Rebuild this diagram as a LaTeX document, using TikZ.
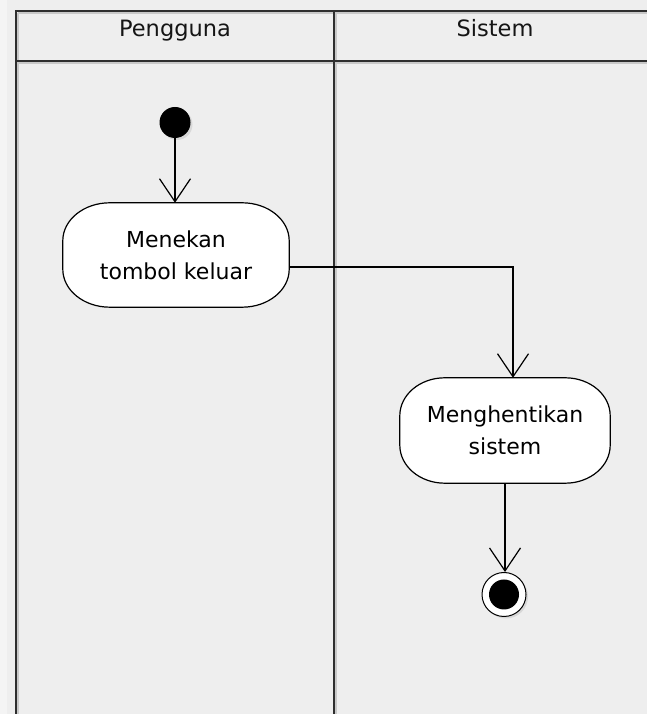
\documentclass[tikz,border=0pt]{standalone}
\usepackage{fontspec}
\setmainfont{DejaVu Sans}
\usetikzlibrary{arrows.meta,calc,shadows}
\definecolor{bg}{HTML}{EEEEEE}
\definecolor{edgestrip}{HTML}{F4F4F4}
\definecolor{laneink}{HTML}{2E2E2E}
\definecolor{laneshade}{HTML}{C8C8C8}
\definecolor{inkgray}{HTML}{151515}
\pgfdeclarelayer{canvas}
\pgfdeclarelayer{background}
\pgfsetlayers{canvas,background,main}

% Outline with elliptical corners drawn behind an action node
\newcommand\actionoutline[3]{%
  \begin{pgfonlayer}{background}
    \foreach \dx/\dy/\style in {3/-3/boxshadow, 0/0/boxline} {
      \path[\style, shift={(\dx,\dy)}]
        ($(#1.north west)+(#2,0)$) -- ($(#1.north east)+(-#2,0)$)
        arc[start angle=90, end angle=0, x radius=#2pt, y radius=#3pt]
        -- ($(#1.south east)+(0,#3)$)
        arc[start angle=0, end angle=-90, x radius=#2pt, y radius=#3pt]
        -- ($(#1.south west)+(#2,0)$)
        arc[start angle=270, end angle=180, x radius=#2pt, y radius=#3pt]
        -- ($(#1.north west)+(0,-#3)$)
        arc[start angle=180, end angle=90, x radius=#2pt, y radius=#3pt]
        -- cycle;
    }
  \end{pgfonlayer}}

\begin{document}
\begin{tikzpicture}[x=1pt,y=1pt,
  laneline/.style={draw=laneink, line width=2pt},
  laneshadowline/.style={draw=laneshade, line width=2pt},
  boxline/.style={fill=white, draw=black, line width=1.2pt},
  boxshadow/.style={fill=black, opacity=0.12},
  flow/.style={draw=black, line width=1.2pt,
    -{Straight Barb[length=23pt, width=31pt, line width=1.2pt]}},
  lanetitle/.style={font=\fontsize{22.5}{26}\selectfont, text=inkgray, anchor=base},
  actiontext/.style={font=\fontsize{22}{32}\selectfont, text=black, align=center,
    inner sep=0pt},
  pseudo/.style={circle, inner sep=0pt,
    drop shadow={shadow xshift=2pt, shadow yshift=-2pt, opacity=0.2}},
]
% canvas
\useasboundingbox (0,0) rectangle (647,714);
\begin{pgfonlayer}{canvas}
  \fill[bg] (0,0) rectangle (647,714);
  \fill[edgestrip] (0,0) rectangle (7,714);
\end{pgfonlayer}

% swimlane frame: shadows first, then the lines
\draw[laneshadowline] (17.5,701) -- (647,701);
\draw[laneshadowline] (17.5,651) -- (647,651);
\draw[laneshadowline] (17.5,0) -- (17.5,701);
\draw[laneshadowline] (336,0) -- (336,701);
\draw[laneline] (15.5,703) -- (647,703);
\draw[laneline] (15.5,653) -- (647,653);
\draw[laneline] (15.5,0) -- (15.5,704);
\draw[laneline] (334,0) -- (334,704);

% lane titles
\node[lanetitle] (user) at (175,677) {Pengguna};
\node[lanetitle] (sys) at (495,677) {Sistem};

% initial node
\node[pseudo, fill=black, minimum size=31pt] (start) at (175,591.5) {};

% actions
\node[actiontext, minimum width=226pt, minimum height=104pt] (a1) at (176,459)
  {Menekan\\tombol keluar};
\actionoutline{a1}{47}{38}
\node[actiontext, minimum width=210pt, minimum height=105pt] (a2) at (505,283.5)
  {Menghentikan\\sistem};
\actionoutline{a2}{45}{38}

% final node
\node[pseudo, fill=white, draw=black, line width=1pt, minimum size=44pt] (stop) at (504,119.5) {};
\node[circle, inner sep=0pt, fill=black, minimum size=30pt] (stopcore) at (stop) {};

% control flow
\draw[flow] (start.south) -- (start.south |- a1.north);
\draw[flow] ([yshift=-12pt]a1.east) -| ([xshift=8pt]a2.north);
\draw[flow] (a2.south) -- (a2.south |- stop.north);
\end{tikzpicture}
\end{document}
